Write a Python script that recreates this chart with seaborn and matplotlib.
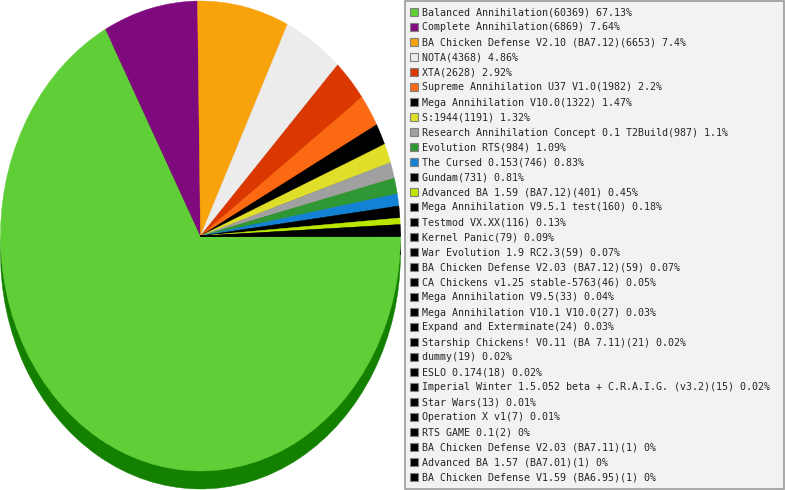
import matplotlib
matplotlib.use("Agg")
import matplotlib.pyplot as plt
import matplotlib.patches as mpatches
import matplotlib.colors as mcolors
import seaborn as sns

# games and number of games played
games = [
    "Balanced Annihilation", "Complete Annihilation", "BA Chicken Defense V2.10 (BA7.12)",
    "NOTA", "XTA", "Supreme Annihilation U37 V1.0", "Mega Annihilation V10.0", "S:1944",
    "Research Annihilation Concept 0.1 T2Build", "Evolution RTS", "The Cursed 0.153",
    "Gundam", "Advanced BA 1.59 (BA7.12)", "Mega Annihilation V9.5.1 test", "Testmod VX.XX",
    "Kernel Panic", "War Evolution 1.9 RC2.3", "BA Chicken Defense V2.03 (BA7.12)",
    "CA Chickens v1.25 stable-5763", "Mega Annihilation V9.5", "Mega Annihilation V10.1 V10.0",
    "Expand and Exterminate", "Starship Chickens! V0.11 (BA 7.11)", "dummy", "ESLO 0.174",
    "Imperial Winter 1.5.052 beta + C.R.A.I.G. (v3.2)", "Star Wars", "Operation X v1",
    "RTS GAME 0.1", "BA Chicken Defense V2.03 (BA7.11)", "Advanced BA 1.57 (BA7.01)",
    "BA Chicken Defense V1.59 (BA6.95)",
]
counts = [60369, 6869, 6653, 4368, 2628, 1982, 1322, 1191, 987, 984, 746, 731, 401,
          160, 116, 79, 59, 59, 46, 33, 27, 24, 21, 19, 18, 15, 13, 7, 2, 1, 1, 1]
slice_colors = ["#60cf37", "#7f0a7e", "#f8a20c", "#ececec", "#db3700", "#fb6a12",
                "#000000", "#dfdf29", "#a0a0a0", "#2f9733", "#1382d4", "#000000",
                "#bae600"] + ["#000000"] * 19

sns.set_style("white")
plt.rcParams["font.family"] = ["DejaVu Sans Mono", "DejaVu Sans"]

W, H = 785, 490
fig = plt.figure(figsize=(W / 100, H / 100), dpi=100)
fig.patch.set_facecolor("white")

# pie area: ellipse rx=200, ry=235 with an 18px deep side
depth = 18 / 235
ax = fig.add_axes([0.5 / W, 1 / H, 400 / W, 488 / H])

palette = sns.color_palette(slice_colors)
dark = []
for c in palette:
    h, s, v = mcolors.rgb_to_hsv(c)
    dark.append(mcolors.hsv_to_rgb((h * 1.07, 1.0 if s > 0.1 else s, v * 0.62)))

shadow, _ = ax.pie(counts, colors=dark, startangle=0, counterclock=False,
                   center=(0, -depth), wedgeprops=dict(linewidth=0.3))
wedges, _ = ax.pie(counts, colors=palette, startangle=0, counterclock=False,
                   wedgeprops=dict(linewidth=0.3))
for w in list(shadow) + list(wedges):
    w.set_edgecolor(w.get_facecolor())
ax.set_aspect("auto")
ax.set_xlim(-1, 1)
ax.set_ylim(-1 - depth, 1)
ax.axis("off")

# legend box
fig.patches.append(mpatches.Rectangle((404.5 / W, 1 / H), 379 / W, 488 / H,
                                      transform=fig.transFigure, facecolor="#f2f2f2",
                                      edgecolor="#999999", linewidth=1.2, zorder=0))

total = sum(counts)
labels = [f"{g}({n}) {round(n / total * 100, 2):g}%" for g, n in zip(games, counts)]
leg = fig.legend(wedges, labels, loc="upper left",
                 bbox_to_anchor=(410 / W, 1 - 7.5 / H), frameon=False,
                 fontsize=7.2, borderpad=0, borderaxespad=0,
                 handlelength=0.8, handleheight=0.8, handletextpad=0.45,
                 labelspacing=0.5)
for hnd in leg.legend_handles:
    hnd.set_edgecolor("#808080")
    hnd.set_linewidth(0.8)

fig.savefig("out.png", dpi=100)
